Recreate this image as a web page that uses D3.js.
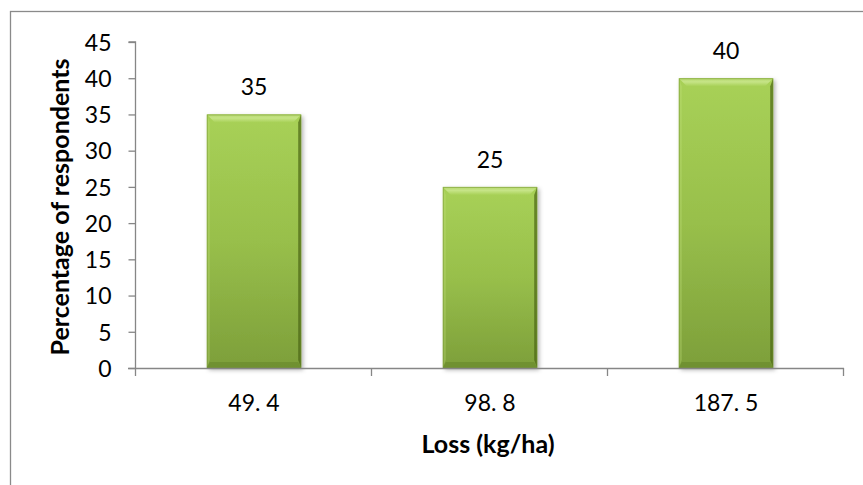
<!DOCTYPE html>
<html>
<head>
<meta charset="utf-8">
<script src="https://cdn.jsdelivr.net/npm/d3@7"></script>
<style>
  html, body { margin: 0; padding: 0; background: #fff; }
  svg { display: block; }
  text { font-family: Lato, "Open Sans", sans-serif; fill: #000; }
</style>
</head>
<body>
<svg id="chart" width="863" height="485"></svg>
<script>
// Loss categories and share of respondents for each
const categories = ["49. 4", "98. 8", "187. 5"];
const percentages = [35, 25, 40];
const yTicks = [0, 5, 10, 15, 20, 25, 30, 35, 40, 45];

const svg = d3.select("#chart");
const plot = { left: 136, right: 844, top: 42, bottom: 368 };

const x = d3.scaleBand()
  .domain(categories)
  .range([plot.left, plot.right])
  .paddingInner(0.6)
  .paddingOuter(0.3);

const y = d3.scaleLinear()
  .domain([0, 45])
  .range([plot.bottom, plot.top]);

const axisColor = "#868686";
const labelSize = "23px";
const titleSize = "25px";

// Chart frame
svg.append("rect")
  .attr("x", 10.5).attr("y", 11.5)
  .attr("width", 900).attr("height", 520)
  .attr("fill", "#fff")
  .attr("stroke", "#8a8a8a")
  .attr("stroke-width", 1.3);

// Gradients and shadow for the bevelled bars
const defs = svg.append("defs");
const body = defs.append("linearGradient").attr("id", "barBody")
  .attr("x1", 0).attr("y1", 0).attr("x2", 0).attr("y2", 1);
body.append("stop").attr("offset", "0%").attr("stop-color", "#a8d157");
body.append("stop").attr("offset", "50%").attr("stop-color", "#98bf4b");
body.append("stop").attr("offset", "100%").attr("stop-color", "#7d9f3a");

const topGrad = defs.append("linearGradient").attr("id", "barTop")
  .attr("x1", 0).attr("y1", 0).attr("x2", 0).attr("y2", 1);
topGrad.append("stop").attr("offset", "0%").attr("stop-color", "#b5d86c");
topGrad.append("stop").attr("offset", "45%").attr("stop-color", "#c6e487");
topGrad.append("stop").attr("offset", "100%").attr("stop-color", "#a8d157");

const shadow = defs.append("filter").attr("id", "barShadow")
  .attr("x", "-20%").attr("y", "-10%").attr("width", "150%").attr("height", "130%");
shadow.append("feDropShadow")
  .attr("dx", 2).attr("dy", 2).attr("stdDeviation", 2)
  .attr("flood-color", "#000").attr("flood-opacity", 0.3);

// Y axis
const yAxis = d3.axisLeft(y).tickValues(yTicks).tickSize(7).tickPadding(17);
const gy = svg.append("g")
  .attr("transform", `translate(${plot.left - 0.5},0)`)
  .call(yAxis);
gy.select(".domain").attr("stroke", axisColor).attr("stroke-width", 1.3)
  .attr("d", `M-7,${y(45)}H0V${y(0)}`);
gy.selectAll(".tick line").attr("stroke", axisColor).attr("stroke-width", 1.3);
gy.selectAll(".tick text")
  .style("font-family", "Lato, 'Open Sans', sans-serif")
  .style("font-size", labelSize)
  .attr("fill", "#000")
  .attr("dy", "0.36em");

// Bars
const bevel = 8;
const bars = svg.append("g").selectAll("g.bar")
  .data(categories.map((c, i) => ({ c, v: percentages[i] })))
  .join("g").attr("class", "bar");

bars.append("rect")
  .attr("x", d => x(d.c))
  .attr("y", d => y(d.v))
  .attr("width", x.bandwidth())
  .attr("height", d => y(0) - y(d.v))
  .attr("fill", "url(#barBody)")
  .attr("filter", "url(#barShadow)");

// bevel faces: top highlight, left light edge, right and bottom dark edges
bars.append("path")
  .attr("fill", "url(#barTop)")
  .attr("d", d => {
    const x0 = x(d.c), x1 = x0 + x.bandwidth(), t = y(d.v);
    return `M${x0},${t}H${x1}L${x1 - bevel},${t + bevel}H${x0 + bevel}Z`;
  });
bars.append("path")
  .attr("fill", "#c2e07e").attr("opacity", 0.3)
  .attr("d", d => {
    const x0 = x(d.c), t = y(d.v), b = y(0);
    return `M${x0},${t}L${x0 + 3},${t + bevel}V${b - bevel}L${x0},${b}Z`;
  });
bars.append("path")
  .attr("fill", "#4a6514").attr("opacity", 0.7)
  .attr("d", d => {
    const x1 = x(d.c) + x.bandwidth(), t = y(d.v), b = y(0);
    return `M${x1},${t}L${x1 - 3},${t + bevel}V${b - bevel}L${x1},${b}Z`;
  });
bars.append("path")
  .attr("fill", "#5f7f25").attr("opacity", 0.45)
  .attr("d", d => {
    const x0 = x(d.c), x1 = x0 + x.bandwidth(), b = y(0);
    return `M${x0},${b}H${x1}L${x1 - 3},${b - 6}H${x0 + 3}Z`;
  });
bars.append("rect")
  .attr("x", d => x(d.c) + 0.5)
  .attr("y", d => y(d.v) + 0.5)
  .attr("width", x.bandwidth() - 1)
  .attr("height", d => y(0) - y(d.v) - 1)
  .attr("fill", "none")
  .attr("stroke", "#6f8f2c").attr("stroke-opacity", 0.5);

// Value labels
bars.append("text")
  .attr("x", d => x(d.c) + x.bandwidth() / 2)
  .attr("y", d => y(d.v) - 19)
  .attr("text-anchor", "middle")
  .style("font-size", labelSize)
  .text(d => d.v);

// X axis: baseline with tick marks between categories
const step = x.step();
const xStart = x.range()[0];
const gx = svg.append("g");
gx.append("line")
  .attr("x1", plot.left - 8).attr("x2", plot.right)
  .attr("y1", y(0) + 0.5).attr("y2", y(0) + 0.5)
  .attr("stroke", axisColor).attr("stroke-width", 1.3);
gx.selectAll("line.tick")
  .data(d3.range(categories.length + 1))
  .join("line").attr("class", "tick")
  .attr("x1", i => xStart + i * step - 0.5).attr("x2", i => xStart + i * step - 0.5)
  .attr("y1", y(0)).attr("y2", y(0) + 8)
  .attr("stroke", axisColor).attr("stroke-width", 1.3);
gx.selectAll("text")
  .data(categories)
  .join("text")
  .attr("x", d => x(d) + x.bandwidth() / 2)
  .attr("y", 411)
  .attr("text-anchor", "middle")
  .style("font-size", labelSize)
  .text(d => d);

// Axis titles
svg.append("text")
  .attr("x", (plot.left + plot.right) / 2 - 2)
  .attr("y", 453)
  .attr("text-anchor", "middle")
  .style("font-size", titleSize)
  .style("font-weight", "bold")
  .text("Loss (kg/ha)");

svg.append("text")
  .attr("transform", "translate(69,207) rotate(-90)")
  .attr("text-anchor", "middle")
  .style("font-size", titleSize)
  .style("font-weight", "bold")
  .text("Percentage of respondents");
</script>
</body>
</html>
